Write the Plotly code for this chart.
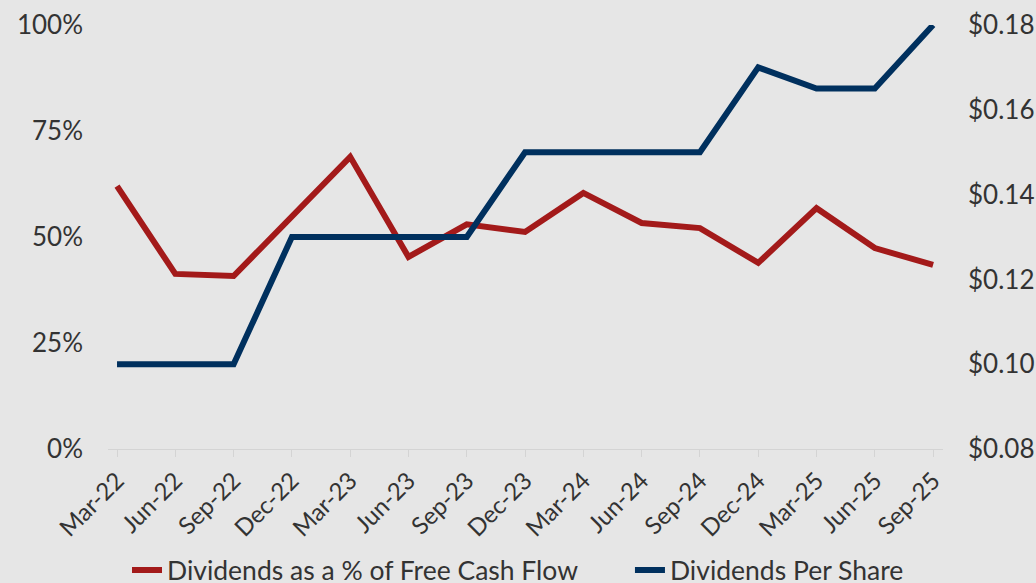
import plotly.graph_objects as go

quarters = ["Mar-22", "Jun-22", "Sep-22", "Dec-22", "Mar-23", "Jun-23", "Sep-23", "Dec-23",
            "Mar-24", "Jun-24", "Sep-24", "Dec-24", "Mar-25", "Jun-25", "Sep-25"]
div_pct_fcf = [62.0, 41.3, 40.8, 55.0, 68.9, 45.3, 53.0, 51.2, 60.4, 53.3, 52.1, 43.9, 56.8, 47.4, 43.4]
div_per_share = [0.10, 0.10, 0.10, 0.13, 0.13, 0.13, 0.13, 0.15, 0.15, 0.15, 0.15, 0.17, 0.165, 0.165, 0.18]
pct_ticks = [0, 25, 50, 75, 100]
pct_labels = ["0%", "25%", "50%", "75%", "100%"]
dps_ticks = [0.08, 0.10, 0.12, 0.14, 0.16, 0.18]
dps_labels = ["$0.08", "$0.10", "$0.12", "$0.14", "$0.16", "$0.18"]

RED = "#A31A1A"
BLUE = "#00305E"
TXT = "#333333"
BG = "#E6E6E6"
FONT = "Lato, 'Noto Sans', sans-serif"
PAD = "\u00a0" * 7

fig = go.Figure()
fig.add_trace(go.Scatter(x=quarters, y=div_pct_fcf, name="Dividends as a % of Free Cash Flow" + PAD,
                         mode="lines", line=dict(color=RED, width=6), yaxis="y"))
fig.add_trace(go.Scatter(x=quarters, y=div_per_share, name="Dividends Per Share",
                         mode="lines", line=dict(color=BLUE, width=6), yaxis="y2"))

fig.update_layout(
    width=1036, height=583,
    margin=dict(l=108, r=93, t=25, b=134, autoexpand=False),
    paper_bgcolor=BG, plot_bgcolor=BG,
    font=dict(family=FONT, color=TXT, size=26),
    showlegend=True,
    legend=dict(orientation="h", xref="container", yref="container",
                x=0.5, xanchor="center", y=0.022, yanchor="middle",
                font=dict(size=26.5, color=TXT), itemwidth=30, bgcolor="rgba(0,0,0,0)"),
    xaxis=dict(type="category", range=[-0.155, 14.17], showgrid=False, automargin=False,
               showline=True, linecolor="#D4D4D4", linewidth=1,
               ticks="outside", ticklen=7, tickcolor="#D4D4D4",
               tickangle=-45, tickfont=dict(size=24, color=TXT), zeroline=False),
    yaxis=dict(range=[0, 100], tickmode="array", tickvals=pct_ticks, ticktext=pct_labels,
               showgrid=False, zeroline=False, showline=False, automargin=False,
               tickfont=dict(size=26, color=TXT), ticklabelstandoff=24),
    yaxis2=dict(range=[0.08, 0.18], tickmode="array", tickvals=dps_ticks, ticktext=dps_labels,
                overlaying="y", side="right", automargin=False,
                showgrid=False, zeroline=False, showline=False,
                tickfont=dict(size=26, color=TXT), ticklabelstandoff=24),
)

fig.write_html("out.html", config={"displayModeBar": False},
               post_script="document.body.style.margin='0';document.body.style.background='#E6E6E6';")
